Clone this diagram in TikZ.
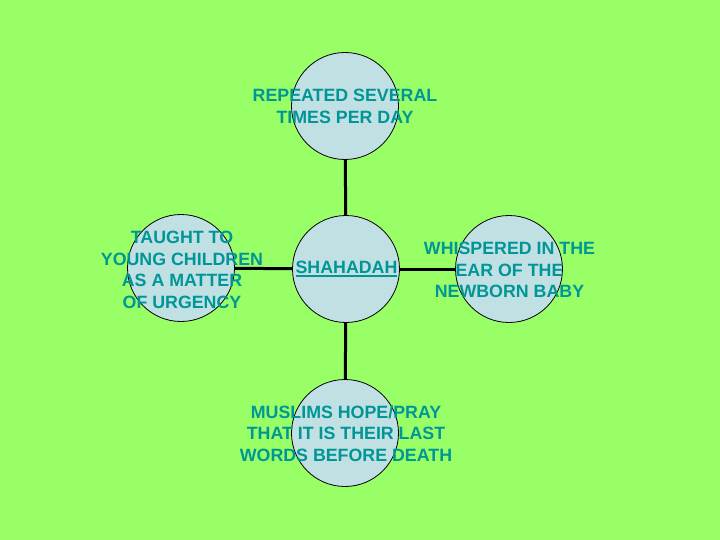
\documentclass[tikz,border=0pt]{standalone}
\usepackage{fontspec}
\setmainfont{Liberation Sans}
\definecolor{pagegreen}{HTML}{99FF66}
\definecolor{bubblefill}{HTML}{C0E0E4}
\definecolor{tealtext}{HTML}{009696}
\newcommand{\boldunder}[1]{\setbox0=\hbox{#1}\rlap{\rule[-3.2pt]{\wd0}{1.8pt}}\box0}
\tikzset{
  bubble/.style={draw=black, line width=0.8pt, circle, fill=bubblefill, minimum size=107pt, inner sep=0pt},
  caption/.style={text=tealtext, align=center, inner sep=0pt, font=\bfseries\fontsize{17.8}{21.7}\selectfont},
  spoke/.style={draw=black, line width=3pt}
}
\begin{document}
\begin{tikzpicture}[x=1pt,y=-1pt]
    \fill[pagegreen] (0,0) rectangle (720,540);
    \useasboundingbox (0,0) rectangle (720,540);
    % circles
    \node[bubble] (hub) at (346,269) {};
    \node[bubble] (top) at (345,106) {};
    \node[bubble] (left) at (181,268) {};
    \node[bubble] (right) at (509,269) {};
    \node[bubble] (bottom) at (345,433) {};
    % spokes
    \foreach \n in {top, left, right, bottom} {
        \draw[spoke] (hub) -- (\n);
    }
    % texts
    \node[caption] (hubtext) at (346.5,269) {\boldunder{SHAHADAH}};
    \node[caption] (toptext) at (345,106.5) {REPEATED SEVERAL\\TIMES PER DAY};
    \node[caption] (lefttext) at (182,270) {TAUGHT TO\\YOUNG CHILDREN\\AS A MATTER\\OF URGENCY};
    \node[caption] (righttext) at (509.5,270) {WHISPERED IN THE\\EAR OF THE\\NEWBORN BABY};
    \node[caption] (bottomtext) at (346,433.5) {MUSLIMS HOPE/PRAY\\THAT IT IS THEIR LAST\\WORDS BEFORE DEATH};
\end{tikzpicture}
\end{document}
